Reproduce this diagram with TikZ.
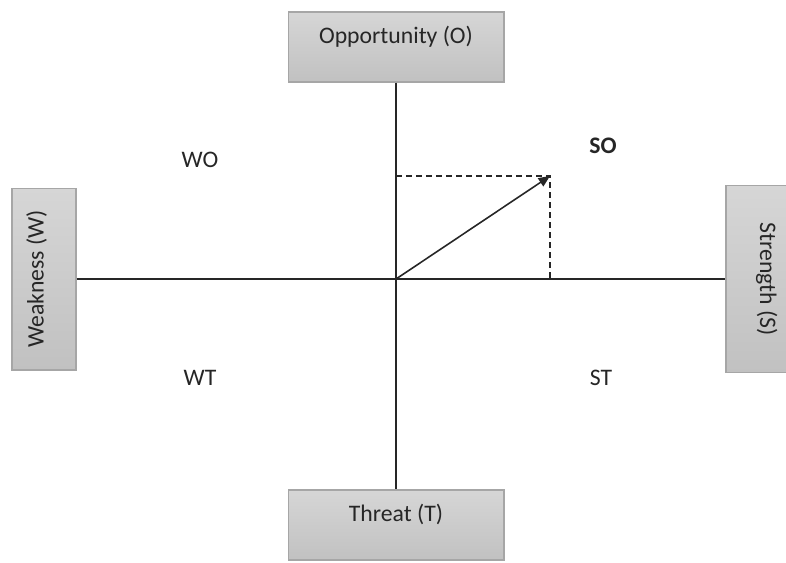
\documentclass[tikz,border=0pt]{standalone}
\usepackage{fontspec}
\setmainfont{Carlito}
\usetikzlibrary{arrows.meta}
\definecolor{boxtop}{RGB}{214,214,214}
\definecolor{boxbot}{RGB}{193,193,193}
\definecolor{boxline}{RGB}{166,166,166}
\definecolor{inktext}{RGB}{38,38,38}

\begin{document}
\begin{tikzpicture}[x=0.02cm,y=-0.02cm,line join=miter,font=\fontsize{13.5}{16}\selectfont,
  factor/.style={draw=boxline,top color=boxtop,bottom color=boxbot,inner sep=0pt,text=inktext,line width=0.6pt},
  axis/.style={black!85,line width=0.8pt},
  guide/.style={black!85,line width=0.75pt,dash pattern=on 3.4pt off 2.3pt},
  vec/.style={-{Triangle[length=6.5pt,width=5.5pt]},black!85,line width=0.9pt},
  quad/.style={text=black!85}]
\useasboundingbox (0,0) rectangle (786,562);
% factor boxes
\node[factor,minimum width=4.32cm,minimum height=1.4cm,text height=0.63cm,text depth=0.77cm] (opp) at (396,47) {Opportunity (O)};
\node[factor,minimum width=4.32cm,minimum height=1.4cm,text height=0.63cm,text depth=0.77cm] (thr) at (396,525) {Threat (T)};
\node[factor,rotate=90,minimum width=3.64cm,minimum height=1.28cm,text height=0.63cm,text depth=0.65cm] (weak) at (44,279) {Weakness (W)};
\node[factor,rotate=-90,minimum width=3.74cm,minimum height=1.28cm,text height=0.6cm,text depth=0.68cm] (str) at (758,279) {Strength (S)};
% axes
\draw[axis] (opp.south) -- (thr.north);
\draw[axis] (weak.south) -- (str.south);
\coordinate (orig) at (opp.south |- weak.south);
\coordinate (tip) at (550,176);
\draw[guide] (orig |- tip) -- (tip) -- (tip |- orig);
\draw[vec] (orig) -- (tip);
% quadrants
\node[quad] (wo) at (200,160) {WO};
\node[quad,font=\fontsize{13.5}{16}\selectfont\bfseries] (so) at (603,146) {SO};
\node[quad] (wt) at (200,378) {WT};
\node[quad] (st) at (601,378) {ST};
\end{tikzpicture}
\end{document}
